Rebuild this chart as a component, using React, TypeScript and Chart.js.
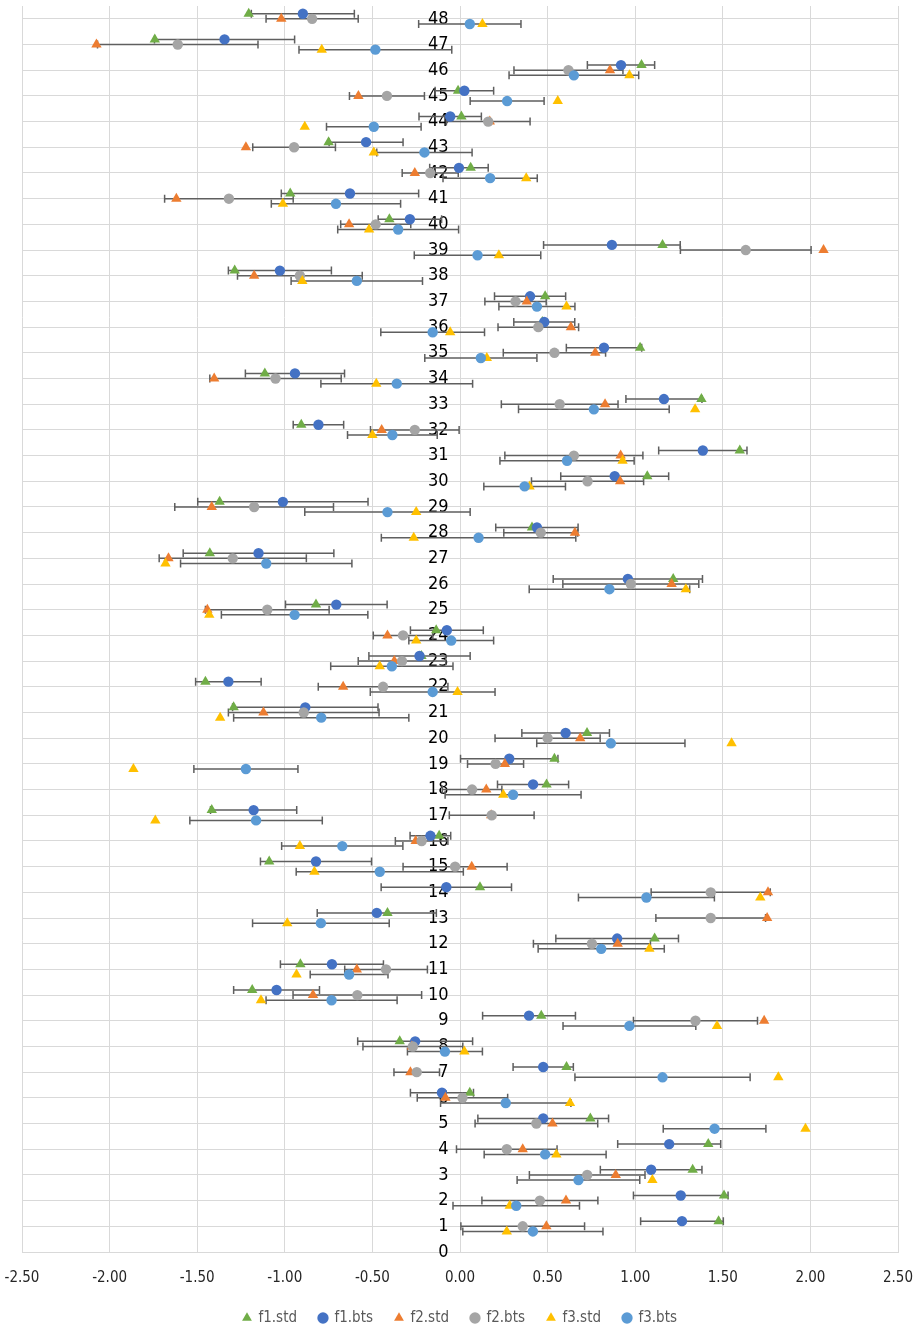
import React, { useEffect, useRef } from 'react';
import { Chart, registerables } from 'chart.js';

Chart.register(...registerables);

// Categories (row numbers on the vertical axis)
const CATEGORIES = [
  1, 2, 3, 4, 5, 6, 7, 8, 9, 10, 11, 12, 13, 14, 15, 16, 17, 18, 19, 20, 21, 22, 23, 24,
  25, 26, 27, 28, 29, 30, 31, 32, 33, 34, 35, 36, 37, 38, 39, 40, 41, 42, 43, 44, 45, 46, 47, 48,
];

// Vertical axis tick labels
const Y_TICKS = [
  0, 1, 2, 3, 4, 5, 6, 7, 8, 9, 10, 11, 12, 13, 14, 15, 16, 17, 18, 19, 20, 21, 22, 23, 24,
  25, 26, 27, 28, 29, 30, 31, 32, 33, 34, 35, 36, 37, 38, 39, 40, 41, 42, 43, 44, 45, 46, 47, 48,
];

const F1_STD = [
  1.476, 1.507, 1.328, 1.417, 0.744, 0.056, 0.608, -0.344, 0.464, -1.186, -0.911, 1.111,
  -0.414, 0.114, -1.089, -0.119, -1.417, 0.494, 0.539, 0.725, -1.292, -1.453, -0.22, -0.136,
  -0.822, 1.217, -1.428, 0.411, -1.372, 1.069, 1.597, -0.906, 1.378, -1.114, 1.028, 0.47,
  0.486, -1.286, 1.156, -0.403, -0.969, 0.061, -0.75, 0.008, -0.011, 1.036, -1.742, -1.206,
];
const F1_BTS = [
  1.267, 1.26, 1.091, 1.194, 0.475, -0.103, 0.475, -0.256, 0.394, -1.047, -0.731, 0.897,
  -0.475, -0.078, -0.822, -0.169, -1.178, 0.417, 0.281, 0.603, -0.883, -1.322, -0.231, -0.075,
  -0.706, 0.958, -1.15, 0.439, -1.011, 0.883, 1.386, -0.808, 1.164, -0.942, 0.822, 0.481,
  0.4, -1.028, 0.867, -0.286, -0.628, -0.006, -0.536, -0.056, 0.025, 0.919, -1.344, -0.897,
];
const F1_ERR = [
  0.236, 0.27, 0.29, 0.294, 0.373, 0.18, 0.172, 0.328, 0.265, 0.245, 0.294, 0.35,
  0.34, 0.372, 0.317, 0.116, 0.246, 0.203, 0.278, 0.25, 0.415, 0.187, 0.289, 0.208,
  0.29, 0.426, 0.43, 0.235, 0.486, 0.308, 0.252, 0.144, 0.217, 0.283, 0.215, 0.174,
  0.203, 0.294, 0.39, 0.181, 0.392, 0.167, 0.211, 0.178, 0.167, 0.192, 0.4, 0.294,
];
const F2_STD = [
  0.493, 0.605, 0.889, 0.358, 0.528, -0.083, -0.283, -0.275, 1.736, -0.839, -0.589, 0.9,
  1.753, 1.758, 0.067, -0.253, 0.178, 0.15, 0.256, 0.686, -1.122, -0.667, -0.375, -0.414,
  -1.442, 1.208, -1.664, 0.656, -1.417, 0.914, 0.917, -0.447, 0.828, -1.403, 0.772, 0.633,
  0.381, -1.175, 2.075, -0.633, -1.619, -0.258, -1.222, 0.17, -0.58, 0.856, -2.075, -1.02,
];
const F2_BTS = [
  0.358, 0.456, 0.726, 0.267, 0.436, 0.014, -0.247, -0.269, 1.344, -0.586, -0.422, 0.753,
  1.431, 1.431, -0.028, -0.219, 0.181, 0.069, 0.203, 0.5, -0.892, -0.439, -0.331, -0.325,
  -1.1, 0.975, -1.297, 0.461, -1.175, 0.728, 0.65, -0.258, 0.569, -1.053, 0.539, 0.447,
  0.317, -0.914, 1.631, -0.481, -1.319, -0.17, -0.947, 0.161, -0.417, 0.619, -1.611, -0.844,
];
const F2_ERR = [
  0.353, 0.331, 0.33, 0.287, 0.35, 0.258, 0.13, 0.285, 0.354, 0.367, 0.236, 0.334,
  0.313, 0.34, 0.297, 0.15, 0.242, 0.17, 0.16, 0.3, 0.43, 0.37, 0.25, 0.17,
  0.353, 0.388, 0.42, 0.211, 0.453, 0.32, 0.394, 0.253, 0.333, 0.375, 0.292, 0.23,
  0.175, 0.356, 0.373, 0.2, 0.367, 0.16, 0.236, 0.239, 0.214, 0.311, 0.458, 0.263,
];
const F3_STD = [
  0.267, 0.284, 1.098, 0.55, 1.972, 0.628, 1.817, 0.025, 1.467, -1.136, -0.933, 1.081,
  -0.986, 1.714, -0.831, -0.914, -1.739, 0.247, -1.864, 1.55, -1.369, -0.014, -0.458, -0.25,
  -1.431, 1.289, -1.681, -0.264, -0.25, 0.397, 0.928, -0.5, 1.342, -0.478, 0.153, -0.056,
  0.608, -0.9, 0.222, -0.519, -1.011, 0.378, -0.492, -0.886, 0.558, 0.967, -0.789, 0.128,
];
const F3_BTS = [
  0.416, 0.321, 0.676, 0.486, 1.453, 0.261, 1.156, -0.086, 0.967, -0.733, -0.633, 0.806,
  -0.794, 1.064, -0.458, -0.672, -1.164, 0.303, -1.222, 0.861, -0.792, -0.156, -0.389, -0.05,
  -0.944, 0.853, -1.106, 0.106, -0.414, 0.369, 0.611, -0.386, 0.764, -0.361, 0.119, -0.156,
  0.439, -0.589, 0.1, -0.353, -0.708, 0.172, -0.203, -0.492, 0.269, 0.65, -0.483, 0.056,
];
const F3_ERR = [
  0.4, 0.361, 0.35, 0.348, 0.293, 0.372, 0.5, 0.214, 0.379, 0.374, 0.222, 0.36,
  0.39, 0.388, 0.477, 0.346, 0.378, 0.388, 0.297, 0.423, 0.5, 0.356, 0.349, 0.242,
  0.418, 0.458, 0.489, 0.555, 0.472, 0.233, 0.383, 0.256, 0.43, 0.433, 0.32, 0.296,
  0.217, 0.375, 0.361, 0.345, 0.369, 0.269, 0.272, 0.27, 0.211, 0.37, 0.436, 0.292,
];

const SERIES_NAMES = ['f1.std', 'f1.bts', 'f2.std', 'f2.bts', 'f3.std', 'f3.bts'];

const FONT = '"Liberation Sans Narrow", "DejaVu Sans Condensed", "Open Sans", sans-serif';

function pts(values: number[], shift: number) {
  return values.map((v, i) => ({ x: v, y: CATEGORIES[i] + shift }));
}

const errorBarPlugin = {
  id: 'errorBars',
  beforeDatasetsDraw(chart: any) {
    const { ctx, scales } = chart;
    const xs = scales.x;
    const ys = scales.y;
    ctx.save();
    ctx.strokeStyle = '#5f5f5f';
    ctx.lineWidth = 1.5;
    chart.data.datasets.forEach((ds: any, di: number) => {
      if (!ds.errors) return;
      const meta = chart.getDatasetMeta(di);
      if (meta.hidden) return;
      ds.data.forEach((p: any, i: number) => {
        const e = ds.errors[i];
        const x1 = xs.getPixelForValue(p.x - e);
        const x2 = xs.getPixelForValue(p.x + e);
        const y = ys.getPixelForValue(p.y);
        ctx.beginPath();
        ctx.moveTo(x1, y);
        ctx.lineTo(x2, y);
        ctx.moveTo(x1, y - 4);
        ctx.lineTo(x1, y + 4);
        ctx.moveTo(x2, y - 4);
        ctx.lineTo(x2, y + 4);
        ctx.stroke();
      });
    });
    ctx.restore();
  },
};

export default function App() {
  const ref = useRef<HTMLCanvasElement | null>(null);

  useEffect(() => {
    if (!ref.current) return;
    const mk = (
      idx: number,
      values: number[],
      shift: number,
      color: string,
      style: string,
      errors?: number[]
    ) => ({
      label: SERIES_NAMES[idx],
      data: pts(values, shift),
      errors,
      backgroundColor: color,
      borderColor: color,
      borderWidth: 0,
      pointStyle: style,
      pointRadius: style === 'triangle' ? 6 : 5.2,
      pointHoverRadius: style === 'triangle' ? 6 : 5.2,
      showLine: false,
      order: 10 - idx,
    });

    const chart = new Chart(ref.current, {
      type: 'scatter',
      data: {
        datasets: [
          mk(0, F1_STD, 0.2, '#70AD47', 'triangle'),
          mk(1, F1_BTS, 0.2, '#4472C4', 'circle', F1_ERR),
          mk(2, F2_STD, 0, '#ED7D31', 'triangle'),
          mk(3, F2_BTS, 0, '#A5A5A5', 'circle', F2_ERR),
          mk(4, F3_STD, -0.2, '#FFC000', 'triangle'),
          mk(5, F3_BTS, -0.2, '#5B9BD5', 'circle', F3_ERR),
        ] as any,
      },
      options: {
        animation: false,
        responsive: false,
        events: [],
        layout: { padding: { left: 22, right: 24, top: 4, bottom: -6.5 } },
        scales: {
          x: {
            type: 'linear',
            min: -2.5,
            max: 2.5,
            grid: { color: '#d9d9d9', drawTicks: false },
            border: { color: '#d9d9d9' },
            ticks: {
              stepSize: 0.5,
              padding: 17,
              color: '#262626',
              font: { family: FONT, size: 15 },
              callback: (v: any) => Number(v).toFixed(2),
            },
            afterFit: (s: any) => {
              s.height -= 15.5;
              s.paddingLeft = 0;
              s.paddingRight = 0;
            },
          },
          y: {
            type: 'linear',
            min: 0,
            max: 48.5,
            position: { x: -0.065 } as any,
            grid: { color: '#d9d9d9', drawTicks: false },
            border: { display: false },
            ticks: {
              color: '#000000',
              font: { family: FONT, size: 18 },
              callback: (v: any) => String(v),
            },
            afterBuildTicks: (s: any) => {
              s.ticks = Y_TICKS.map((v) => ({ value: v }));
            },
            afterFit: (s: any) => {
              s.paddingTop = 0;
              s.paddingBottom = 0;
            },
          },
        },
        plugins: {
          legend: {
            position: 'bottom',
            labels: {
              usePointStyle: true,
              boxWidth: 8,
              boxHeight: 8,
              padding: 22,
              color: '#595959',
              font: { family: FONT, size: 15 },
              sort: (a: any, b: any) => a.datasetIndex - b.datasetIndex,
            },
          },
          tooltip: { enabled: false },
        },
      },
      plugins: [errorBarPlugin],
    });
    return () => chart.destroy();
  }, []);

  return (
    <div style={{ position: 'absolute', left: 0, top: 0, width: 922, height: 1329 }}>
      <canvas ref={ref} width={922} height={1329} style={{ width: 922, height: 1329 }} />
    </div>
  );
}
